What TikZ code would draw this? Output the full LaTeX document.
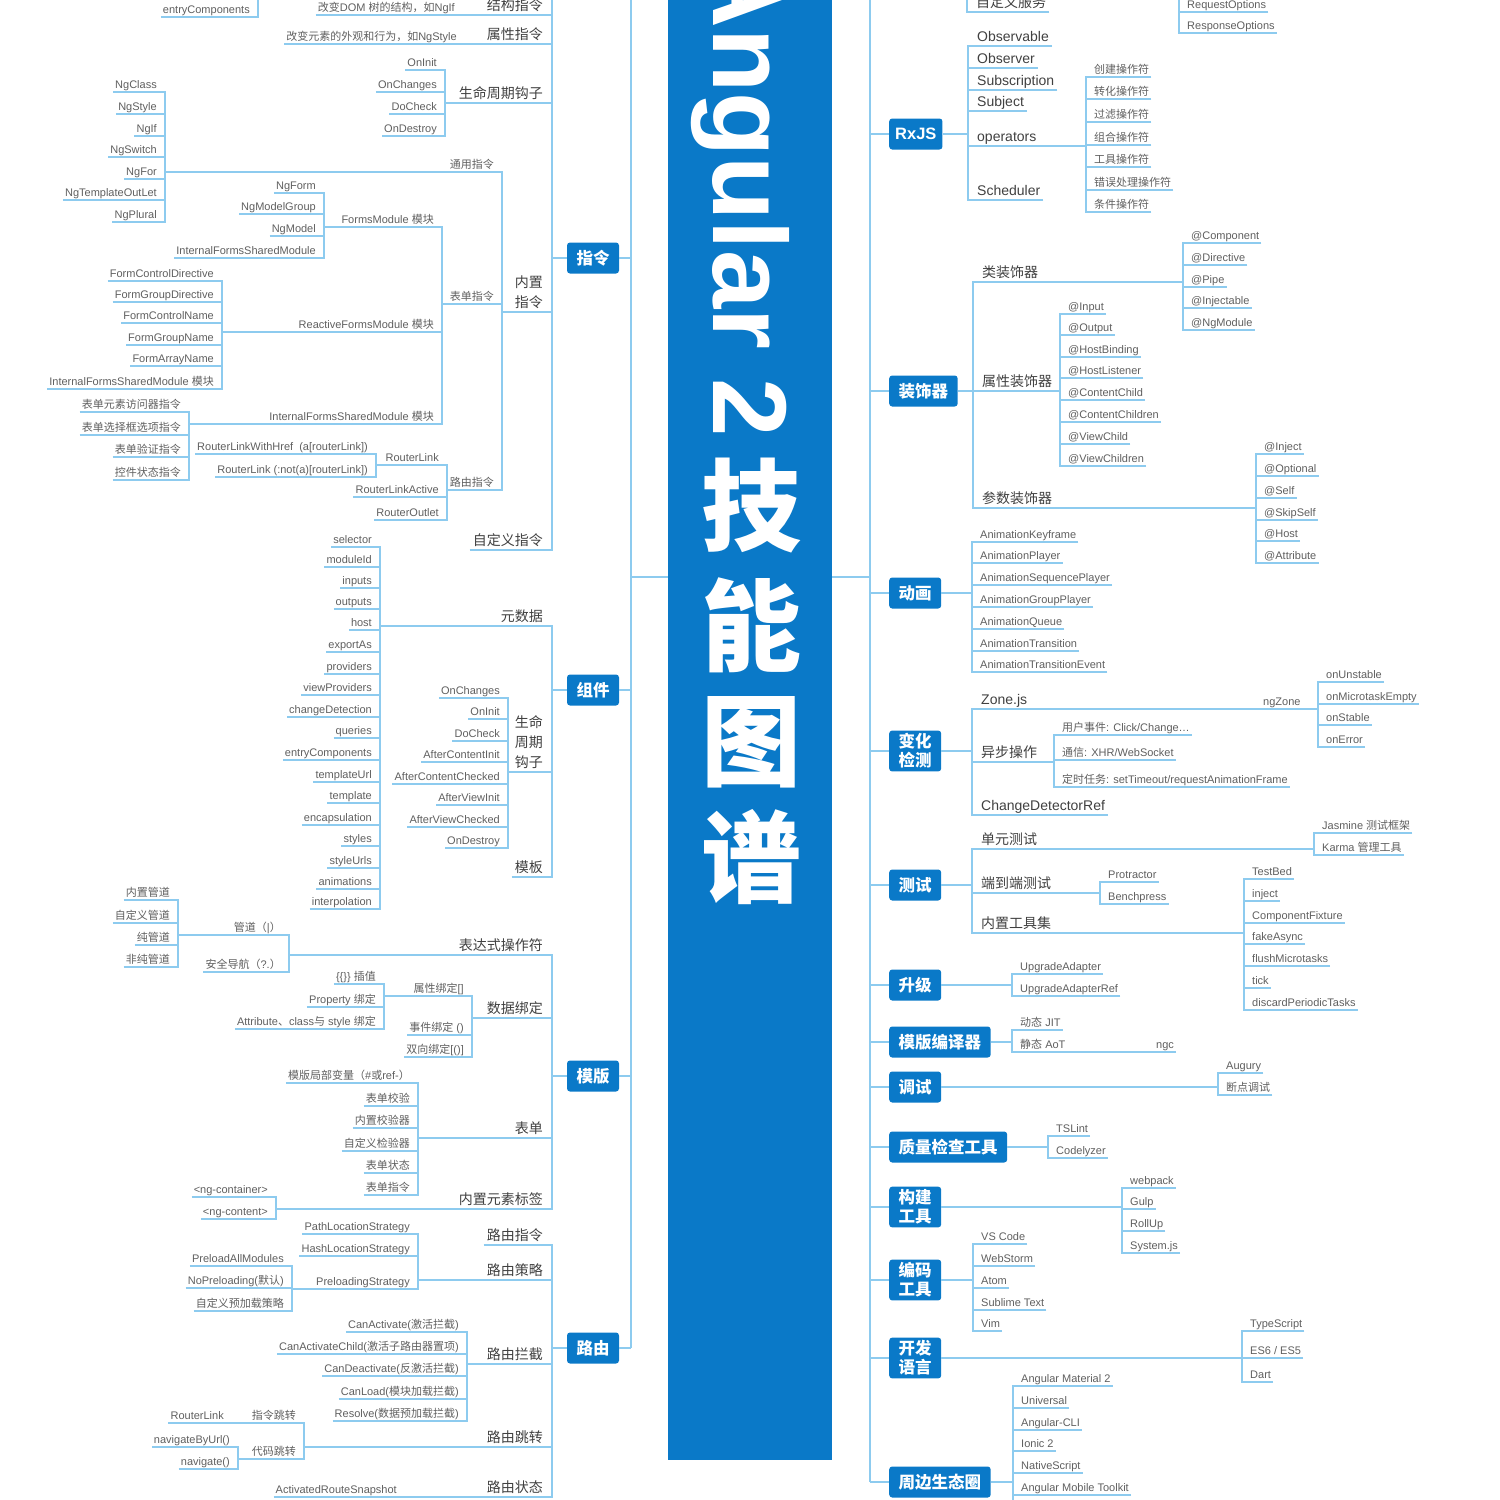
\documentclass[tikz,border=0pt]{standalone}
\usepackage{fontspec}
\usepackage{tikz}
\setmainfont{Liberation Sans}
\newfontfamily\cjkfont{Noto Sans CJK SC}
\definecolor{ngblue}{HTML}{0A79C8}
\definecolor{ngline}{HTML}{8DCBEF}
\definecolor{nggray}{HTML}{5F5F5F}
\definecolor{ngdark}{HTML}{404040}

\XeTeXinterchartokenstate=1
\chardef\cjkcls=50
\makeatletter
\def\cjkrange#1#2{\count@=#1\relax
  \loop\XeTeXcharclass\count@=\cjkcls\relax
  \advance\count@\@ne\ifnum\count@<#2\relax\repeat}
\cjkrange{"3000}{"3040}
\cjkrange{"4E00}{"A000}
\cjkrange{"FF00}{"FFF0}
\makeatother
\XeTeXinterchartoks 0 \cjkcls = {\cjkfont}
\XeTeXinterchartoks 4095 \cjkcls = {\cjkfont}
\XeTeXinterchartoks \cjkcls 0 = {\rmfamily}
\XeTeXinterchartoks \cjkcls 4095 = {\rmfamily}

\newcommand\kidsL[5]{%
  \coordinate (#1-j) at (#2,#3);
  \draw[ln] (#1-j) -- (#1.west |- #1-j);
  \foreach \y/\lbl [count=\i] in {#5}{
    \node[#4, anchor=south east] (#1-\i) at ({#2-6},\y) {\lbl};
    \draw[ln] (#1-\i.south west) -| (#1-j);
  }}
\newcommand\kidsR[5]{%
  \coordinate (#1-j) at (#2,#3);
  \draw[ln] (#1-j) -- (#1.east |- #1-j);
  \foreach \y/\lbl [count=\i] in {#5}{
    \node[#4, anchor=south west] (#1-\i) at ({#2+6},\y) {\lbl};
    \draw[ln] (#1-\i.south east) -| (#1-j);
  }}

\begin{document}
\begin{tikzpicture}[x=1pt, y=-1pt,
    ln/.style={draw=ngline, line width=1.2pt},
    box/.style={fill=ngblue, rounded corners=3pt, text=white, inner xsep=9.5pt,
                inner ysep=3pt, minimum height=31pt, align=center,
                font=\fontsize{16.5}{19}\selectfont\bfseries},
    head/.style={text=ngdark, inner xsep=3pt, inner ysep=4pt, text depth=0pt,
                 align=center, font=\fontsize{14}{20}\selectfont},
    leaf/.style={text=nggray, inner xsep=2pt, inner ysep=3.5pt, text depth=0pt,
                 align=center, font=\fontsize{11}{13}\selectfont},
    ttl/.style={text=white, inner sep=0pt, font=\fontsize{100}{100}\selectfont\bfseries}
]
\useasboundingbox (0,0) rectangle (1500,1500);

\node[fill=ngblue, minimum width=164pt, minimum height=1480pt, inner sep=0pt, anchor=south]
    (banner) at (750,1460) {};
\node[ttl, rotate=-90, anchor=base east, font=\fontsize{105}{105}\selectfont\bfseries]
    (ttl-en) at (713,437) {Angular 2};
\foreach \ch/\y [count=\i] in {技/506, 能/625, 图/742, 谱/857}
    \node[ttl] (ttl-\i) at (751,\y) {\ch};

\coordinate (ltr) at (631,-10);
\coordinate (rtr) at (870,-10);

\node[box] (zl) at (593,258) {指令};
\node[box] (zj) at (593,690) {组件};
\node[box] (mb) at (593,1076) {模版};
\node[box] (ly) at (593,1348) {路由};
\draw[ln] (ltr) -- (ltr |- ly.east);
\draw[ln] (banner.west |- 0,577) -- (ltr |- 0,577);
\foreach \bx in {zl, zj, mb, ly}
    \draw[ln] (\bx.east) -- (\bx.east -| ltr);

\node[box, anchor=west, inner xsep=6pt] (rx) at (889,134) {RxJS};
\node[box, anchor=west] (zs) at (889,391) {装饰器};
\node[box, anchor=west] (dh) at (889,593) {动画};
\node[box, anchor=west] (bh) at (889,751) {变化\\检测};
\node[box, anchor=west] (cs) at (889,885) {测试};
\node[box, anchor=west] (sj) at (889,985) {升级};
\node[box, anchor=west] (by) at (889,1042) {模版编译器};
\node[box, anchor=west] (ts) at (889,1087) {调试};
\node[box, anchor=west] (zc) at (889,1147) {质量检查工具};
\node[box, anchor=west] (gj) at (889,1207) {构建\\工具};
\node[box, anchor=west] (bm) at (889,1280) {编码\\工具};
\node[box, anchor=west] (ky) at (889,1358) {开发\\语言};
\node[box, anchor=west] (zb) at (889,1482) {周边生态圈};
\draw[ln] (rtr) -- (rtr |- zb.west);
\draw[ln] (banner.east |- 0,577) -- (rtr |- 0,577);
\foreach \bx in {rx, zs, dh, bh, cs, sj, by, ts, zc, gj, bm, ky, zb}
    \draw[ln] (\bx.west) -- (\bx.west -| rtr);

\coordinate (top-cmp) at (258,-10);
\node[leaf, anchor=south east] (top-ent) at (252,17) {entryComponents};
\draw[ln] (top-ent.south west) -| (top-cmp);

\kidsL{zl}{552}{258}{head}{15/结构指令, 44/属性指令, 103/生命周期钩子, 312/{内置\\指令}, 550/自定义指令}
\draw[ln] (zl-j) -- (zl-j |- ltr);
\kidsL{zl-1}{463}{15}{leaf}{15/改变DOM 树的结构，如NgIf}
\kidsL{zl-2}{465}{44}{leaf}{44/改变元素的外观和行为，如NgStyle}
\kidsL{zl-3}{445}{103}{leaf}{70/OnInit, 92/OnChanges, 114/DoCheck, 136/OnDestroy}
\kidsL{zl-4}{502}{312}{leaf}{172/通用指令, 304/表单指令, 490/路由指令}
\kidsL{zl-4-1}{165}{172}{leaf}{92/NgClass, 114/NgStyle, 136/NgIf, 157/NgSwitch, 179/NgFor, 200/NgTemplateOutLet, 222/NgPlural}
\kidsL{zl-4-2}{442}{304}{leaf}{227/FormsModule 模块, 332/ReactiveFormsModule 模块, 424/InternalFormsSharedModule 模块}
\kidsL{zl-4-2-1}{324}{227}{leaf}{193/NgForm, 214/NgModelGroup, 236/NgModel, 258/InternalFormsSharedModule}
\kidsL{zl-4-2-2}{222}{332}{leaf}{281/FormControlDirective, 302/FormGroupDirective, 323/FormControlName, 345/FormGroupName, 366/FormArrayName, 389/InternalFormsSharedModule 模块}
\kidsL{zl-4-2-3}{189}{424}{leaf}{412/表单元素访问器指令, 435/表单选择框选项指令, 457/表单验证指令, 480/控件状态指令}
\kidsL{zl-4-3}{447}{490}{leaf}{465/RouterLink, 497/RouterLinkActive, 520/RouterOutlet}
\kidsL{zl-4-3-1}{376}{465}{leaf}{454/RouterLinkWithHref~~(a[routerLink]), 477/RouterLink (:not(a)[routerLink])}

\kidsL{zj}{552}{690}{head}{626/元数据, 772/{生命\\周期\\钩子}, 877/模板}
\kidsL{zj-1}{380}{626}{leaf}{547/selector, 567/moduleId, 588/inputs, 609/outputs, 630/host, 652/exportAs, 674/providers, 695/viewProviders, 717/changeDetection, 738/queries, 760/entryComponents, 782/templateUrl, 803/template, 825/encapsulation, 846/styles, 868/styleUrls, 889/animations, 909/interpolation}
\kidsL{zj-2}{508}{772}{leaf}{698/OnChanges, 719/OnInit, 741/DoCheck, 762/AfterContentInit, 784/AfterContentChecked, 805/AfterViewInit, 827/AfterViewChecked, 848/OnDestroy}

\kidsL{mb}{552}{1076}{head}{955/表达式操作符, 1018/数据绑定, 1138/表单, 1209/内置元素标签}
\kidsL{mb-1}{289}{955}{leaf}{935/管道（|）, 972/安全导航（?.）}
\kidsL{mb-1-1}{178}{935}{leaf}{900/内置管道, 923/自定义管道, 945/纯管道, 967/非纯管道}
\kidsL{mb-2}{472}{1018}{leaf}{996/属性绑定[], 1035/事件绑定 (), 1057/双向绑定[()]}
\kidsL{mb-2-1}{384}{996}{leaf}{984/\{\{\}\} 插值, 1007/Property 绑定, 1029/Attribute、class与 style 绑定}
\kidsL{mb-3}{418}{1138}{leaf}{1083/模版局部变量（\#或ref-）, 1106/表单校验, 1128/内置校验器, 1151/自定义检验器, 1173/表单状态, 1195/表单指令}
\kidsL{mb-4}{276}{1209}{leaf}{1197/<ng-container>, 1219/<ng-content>}

\kidsL{ly}{552}{1348}{head}{1245/路由指令, 1280/路由策略, 1364/路由拦截, 1447/路由跳转, 1497/路由状态}
\kidsL{ly-2}{418}{1280}{leaf}{1234/PathLocationStrategy, 1256/HashLocationStrategy, 1289/PreloadingStrategy}
\kidsL{ly-2-3}{292}{1289}{leaf}{1266/PreloadAllModules, 1288/NoPreloading(默认), 1311/自定义预加载策略}
\kidsL{ly-3}{467}{1364}{leaf}{1332/CanActivate(激活拦截), 1354/CanActivateChild(激活子路由器置项), 1376/CanDeactivate(反激活拦截), 1399/CanLoad(模块加载拦截), 1421/Resolve(数据预加载拦截)}
\kidsL{ly-4}{304}{1447}{leaf}{1423/指令跳转, 1459/代码跳转}
\kidsL{ly-4-1}{232}{1423}{leaf}{1423/RouterLink}
\kidsL{ly-4-2}{238}{1459}{leaf}{1447/navigateByUrl(), 1469/navigate()}
\kidsL{ly-5}{405}{1497}{leaf}{1497/ActivatedRouteSnapshot}

\coordinate (top-fw) at (967,-10);
\node[head, anchor=south west] (top-zdy) at (973,12) {自定义服务};
\draw[ln] (top-zdy.south east) -| (top-fw);
\coordinate (top-opt) at (1179,-10);
\node[leaf, anchor=south west] (top-req) at (1185,12) {RequestOptions};
\node[leaf, anchor=south west] (top-res) at (1185,33) {ResponseOptions};
\draw[ln] (top-req.south east) -| (top-opt);
\draw[ln] (top-res.south east) -| (top-opt);

\kidsR{rx}{968}{134}{head}{46/Observable, 68/Observer, 90/Subscription, 111/Subject, 146/operators, 200/Scheduler}
\kidsR{rx-5}{1086}{146}{leaf}{77/创建操作符, 99/转化操作符, 122/过滤操作符, 145/组合操作符, 167/工具操作符, 190/错误处理操作符, 212/条件操作符}
\kidsR{zs}{973}{391}{head}{282/类装饰器, 391/属性装饰器, 508/参数装饰器}
\kidsR{zs-1}{1183}{282}{leaf}{243/@Component, 265/@Directive, 287/@Pipe, 308/@Injectable, 330/@NgModule}
\kidsR{zs-2}{1060}{391}{leaf}{314/@Input, 335/@Output, 357/@HostBinding, 378/@HostListener, 400/@ContentChild, 422/@ContentChildren, 444/@ViewChild, 466/@ViewChildren}
\kidsR{zs-3}{1256}{508}{leaf}{454/@Inject, 476/@Optional, 498/@Self, 520/@SkipSelf, 541/@Host, 563/@Attribute}
\kidsR{dh}{972}{593}{leaf}{542/AnimationKeyframe, 563/AnimationPlayer, 585/AnimationSequencePlayer, 607/AnimationGroupPlayer, 629/AnimationQueue, 651/AnimationTransition, 672/AnimationTransitionEvent}
\kidsR{bh}{972}{751}{head}{709/Zone.js, 762/异步操作, 815/ChangeDetectorRef}
\kidsR{bh-1}{1255}{709}{leaf}{709/ngZone}
\kidsR{bh-1-1}{1318}{709}{leaf}{682/onUnstable, 704/onMicrotaskEmpty, 725/onStable, 747/onError}
\kidsR{bh-2}{1054}{762}{leaf}{735/{用户事件: Click/Change\ldots}, 760/{通信: XHR/WebSocket}, 787/{定时任务: setTimeout/requestAnimationFrame}}
\kidsR{cs}{972}{885}{head}{849/单元测试, 893/端到端测试, 933/内置工具集}
\kidsR{cs-1}{1314}{849}{leaf}{833/Jasmine 测试框架, 855/Karma 管理工具}
\kidsR{cs-2}{1100}{893}{leaf}{882/Protractor, 904/Benchpress}
\kidsR{cs-3}{1244}{933}{leaf}{879/TestBed, 901/inject, 923/ComponentFixture, 944/fakeAsync, 966/flushMicrotasks, 988/tick, 1010/discardPeriodicTasks}
\kidsR{sj}{1012}{985}{leaf}{974/UpgradeAdapter, 996/UpgradeAdapterRef}
\kidsR{by}{1012}{1042}{leaf}{1030/动态 JIT, 1052/静态 AoT}
\kidsR{by-2}{1148}{1052}{leaf}{1052/ngc}
\kidsR{ts}{1218}{1087}{leaf}{1073/Augury, 1095/断点调试}
\kidsR{zc}{1048}{1147}{leaf}{1136/TSLint, 1158/Codelyzer}
\kidsR{gj}{1122}{1207}{leaf}{1188/webpack, 1209/Gulp, 1231/RollUp, 1253/System.js}
\kidsR{bm}{973}{1280}{leaf}{1244/VS Code, 1266/WebStorm, 1288/Atom, 1310/Sublime Text, 1331/Vim}
\kidsR{ky}{1242}{1358}{leaf}{1331/TypeScript, 1358/{ES6 / ES5}, 1382/Dart}
\kidsR{zb}{1013}{1482}{leaf}{1386/Angular Material 2, 1408/Universal, 1430/Angular-CLI, 1451/Ionic 2, 1473/NativeScript, 1495/Angular Mobile Toolkit}
\draw[ln] (zb-j) -- (zb-j |- 0,1510);
\end{tikzpicture}
\end{document}
